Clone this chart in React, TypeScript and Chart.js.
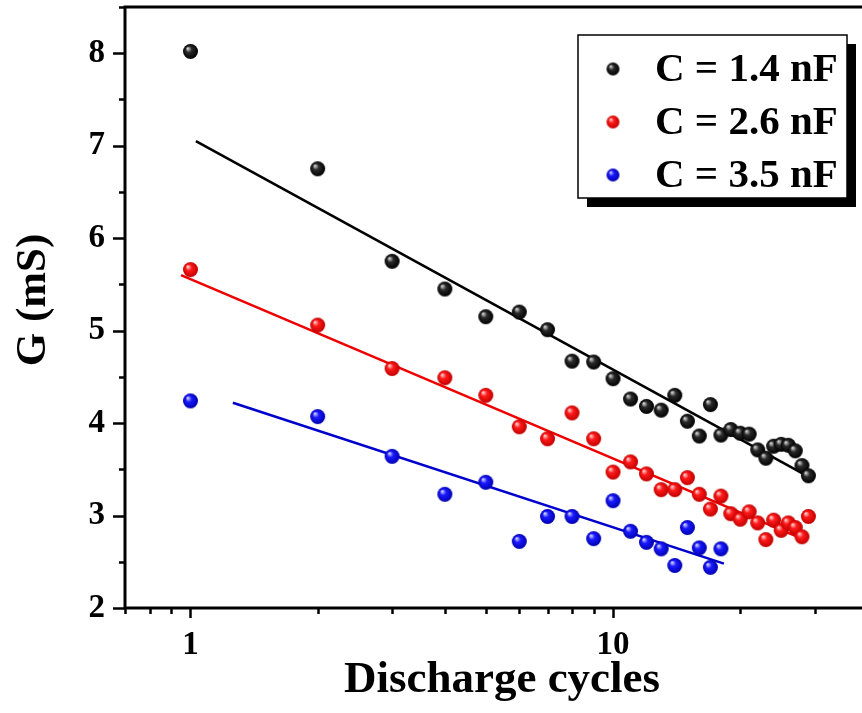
import React, { useEffect, useRef } from 'react';
import { Chart, registerables } from 'chart.js';

Chart.register(...registerables);

// ---- Data ----
const seriesLabels = ['C = 1.4 nF', 'C = 2.6 nF', 'C = 3.5 nF'];

const cycles14 = [1, 2, 3, 4, 5, 6, 7, 8, 9, 10, 11, 12, 13, 14, 15, 16, 17, 18, 19, 20, 21, 22, 23, 24, 25, 26, 27, 28, 29];
const g14 = [8.02, 6.75, 5.75, 5.45, 5.15, 5.2, 5.01, 4.67, 4.66, 4.48, 4.26, 4.18, 4.14, 4.3, 4.02, 3.86, 4.2, 3.87, 3.93, 3.89, 3.88, 3.71, 3.62, 3.75, 3.77, 3.76, 3.7, 3.54, 3.43];

const cycles26 = [1, 2, 3, 4, 5, 6, 7, 8, 9, 10, 11, 12, 13, 14, 15, 16, 17, 18, 19, 20, 21, 22, 23, 24, 25, 26, 27, 28, 29];
const g26 = [5.66, 5.06, 4.59, 4.49, 4.3, 3.96, 3.83, 4.11, 3.83, 3.47, 3.58, 3.45, 3.28, 3.28, 3.41, 3.23, 3.07, 3.21, 3.02, 2.96, 3.04, 2.92, 2.74, 2.95, 2.84, 2.92, 2.87, 2.77, 2.99];

const cycles35 = [1, 2, 3, 4, 5, 6, 7, 8, 9, 10, 11, 12, 13, 14, 15, 16, 17, 18];
const g35 = [4.24, 4.07, 3.64, 3.23, 3.36, 2.72, 2.99, 2.99, 2.75, 3.16, 2.83, 2.71, 2.64, 2.46, 2.87, 2.65, 2.44, 2.64];

// Linear-fit lines (end points)
const fit14X = [1.03, 29];
const fit14Y = [7.05, 3.42];
const fit26X = [0.95, 27];
const fit26Y = [5.6, 2.78];
const fit35X = [1.26, 18.3];
const fit35Y = [4.22, 2.48];

const xMin = 0.7;
const xMax = 38;
const yMin = 2;
const yMax = 8.5;
const yStep = 0.5;

const xTitle = 'Discharge cycles';
const yTitle = 'G (mS)';

const FONT = '"Liberation Serif", "Times New Roman", serif';

function sphere(r: number, hi: string, mid: string, dark: string) {
  const c = document.createElement('canvas');
  const s = Math.ceil(2 * r + 2);
  c.width = s;
  c.height = s;
  const ctx = c.getContext('2d')!;
  const cx = s / 2;
  const cy = s / 2;
  const g = ctx.createRadialGradient(cx - r * 0.38, cy - r * 0.42, r * 0.05, cx, cy, r);
  g.addColorStop(0, hi);
  g.addColorStop(0.38, mid);
  g.addColorStop(1, dark);
  ctx.fillStyle = g;
  ctx.beginPath();
  ctx.arc(cx, cy, r, 0, Math.PI * 2);
  ctx.fill();
  return c;
}

const colors = [
  { hi: '#d8d8d8', mid: '#2a2a2a', dark: '#000000', line: '#000000' },
  { hi: '#ffd6d6', mid: '#ff1a1a', dark: '#c00000', line: '#ee0000' },
  { hi: '#d6d6ff', mid: '#1a1aff', dark: '#0000b0', line: '#0000cc' },
];

function isNice(v: number) {
  const e = Math.floor(Math.log10(v) + 1e-9);
  const m = v / Math.pow(10, e);
  return Math.abs(m - Math.round(m)) < 1e-6;
}
function isDecade(v: number) {
  const l = Math.log10(v);
  return Math.abs(l - Math.round(l)) < 1e-6;
}

function zeroPad(s: any) {
  s.paddingTop = 0;
  s.paddingBottom = 0;
  s.paddingLeft = 0;
  s.paddingRight = 0;
}

export default function App() {
  const ref = useRef<HTMLCanvasElement>(null);

  useEffect(() => {
    if (!ref.current) return;
    const big = colors.map((c) => sphere(7.5, c.hi, c.mid, c.dark));
    const small = colors.map((c) => sphere(6.5, c.hi, c.mid, c.dark));

    const pts = (xs: number[], ys: number[]) => xs.map((x, i) => ({ x, y: ys[i] }));

    const scatterSets = [
      [cycles14, g14],
      [cycles26, g26],
      [cycles35, g35],
    ].map(([xs, ys], i) => ({
      type: 'scatter' as const,
      label: seriesLabels[i],
      data: pts(xs, ys),
      pointStyle: big[i],
      pointRadius: 0.5,
      pointBorderWidth: 0,
      borderWidth: 0,
      showLine: false,
      order: 0,
    }));

    const fitSets = [
      [fit14X, fit14Y],
      [fit26X, fit26Y],
      [fit35X, fit35Y],
    ].map(([xs, ys], i) => ({
      type: 'scatter' as const,
      label: 'fit ' + seriesLabels[i],
      data: pts(xs, ys),
      showLine: true,
      borderColor: colors[i].line,
      borderWidth: 2.6,
      pointRadius: 0,
      pointBorderWidth: 0,
      order: 1,
    }));

    const decor = {
      id: 'decor',
      afterDraw(chart: any) {
        const { ctx, chartArea: a } = chart;
        const xs = chart.scales.x;
        const ys = chart.scales.y;
        ctx.save();
        ctx.strokeStyle = '#000';
        ctx.lineCap = 'butt';
        // frame: left, bottom, top
        ctx.lineWidth = 3;
        ctx.beginPath();
        ctx.moveTo(a.left, a.top);
        ctx.lineTo(a.left, a.bottom);
        ctx.lineTo(a.right + 10, a.bottom);
        ctx.moveTo(a.left - 1.5, a.top);
        ctx.lineTo(a.right + 10, a.top);
        ctx.stroke();
        // ticks
        ctx.lineWidth = 2.5;
        ctx.beginPath();
        xs.ticks.forEach((t: any) => {
          const v = t.value;
          if (!isNice(v)) return;
          const px = Math.round(xs.getPixelForValue(v)) + 0.5;
          const len = isDecade(v) ? 10 : 6;
          ctx.moveTo(px, a.bottom);
          ctx.lineTo(px, a.bottom + len);
        });
        ys.ticks.forEach((t: any) => {
          const v = t.value;
          const py = Math.round(ys.getPixelForValue(v)) + 0.5;
          const len = Math.abs(v - Math.round(v)) < 1e-6 ? 12 : 6;
          ctx.moveTo(a.left, py);
          ctx.lineTo(a.left - len, py);
        });
        ctx.stroke();

        // axis titles
        ctx.fillStyle = '#000';
        ctx.font = `bold 45px ${FONT}`;
        ctx.textAlign = 'center';
        ctx.textBaseline = 'alphabetic';
        ctx.fillText(xTitle, 502, 692);
        ctx.font = `bold 43px ${FONT}`;
        ctx.save();
        ctx.translate(45, 300);
        ctx.rotate(-Math.PI / 2);
        ctx.fillText(yTitle, 0, 0);
        ctx.restore();

        // legend box
        const lx = 578, ly = 35, lw = 269, lh = 163;
        ctx.fillStyle = '#000';
        ctx.fillRect(lx + 9, ly + 9, lw, lh);
        ctx.fillStyle = '#fff';
        ctx.fillRect(lx, ly, lw, lh);
        ctx.lineWidth = 1.5;
        ctx.strokeStyle = '#000';
        ctx.strokeRect(lx, ly, lw, lh);
        ctx.font = `bold 41px ${FONT}`;
        ctx.textAlign = 'left';
        ctx.fillStyle = '#000';
        const labels = chart.data.datasets.filter((d: any) => !d.showLine).map((d: any) => d.label);
        labels.forEach((lab: string, i: number) => {
          const cy = 69 + i * 53;
          const img = small[i];
          ctx.drawImage(img, 613 - img.width / 2, cy - img.height / 2);
          ctx.fillText(lab, 655, cy + 12);
        });
        ctx.restore();
      },
    };

    const chart = new Chart(ref.current, {
      type: 'scatter',
      data: { datasets: [...scatterSets, ...fitSets] as any },
      options: {
        animation: false,
        responsive: true,
        maintainAspectRatio: false,
        layout: { padding: { top: 7, left: 0, right: 0, bottom: 0 } },
        plugins: { legend: { display: false }, tooltip: { enabled: false } },
        scales: {
          x: {
            type: 'logarithmic',
            min: xMin,
            max: xMax,
            border: { display: false },
            grid: { display: false, drawTicks: false },
            ticks: {
              autoSkip: false,
              maxRotation: 0,
              padding: 18,
              color: '#000',
              font: { family: FONT, size: 33, weight: 'bold' },
              callback: (v: any) => (isDecade(Number(v)) ? String(Math.round(Number(v))) : ''),
            },
            afterFit: (s: any) => {
              s.height = 105;
              zeroPad(s);
            },
          },
          y: {
            type: 'linear',
            min: yMin,
            max: yMax,
            border: { display: false },
            grid: { display: false, drawTicks: false },
            ticks: {
              stepSize: yStep,
              autoSkip: false,
              padding: 20,
              color: '#000',
              font: { family: FONT, size: 33, weight: 'bold' },
              callback: (v: any) => (Math.abs(Number(v) - Math.round(Number(v))) < 1e-6 ? String(Math.round(Number(v))) : ''),
            },
            afterFit: (s: any) => {
              s.width = 125;
              zeroPad(s);
            },
          },
        },
      },
      plugins: [decor],
    } as any);

    return () => chart.destroy();
  }, []);

  return (
    <div style={{ position: 'fixed', left: 0, top: 0, width: 862, height: 713, background: '#fff' }}>
      <canvas ref={ref} />
    </div>
  );
}
